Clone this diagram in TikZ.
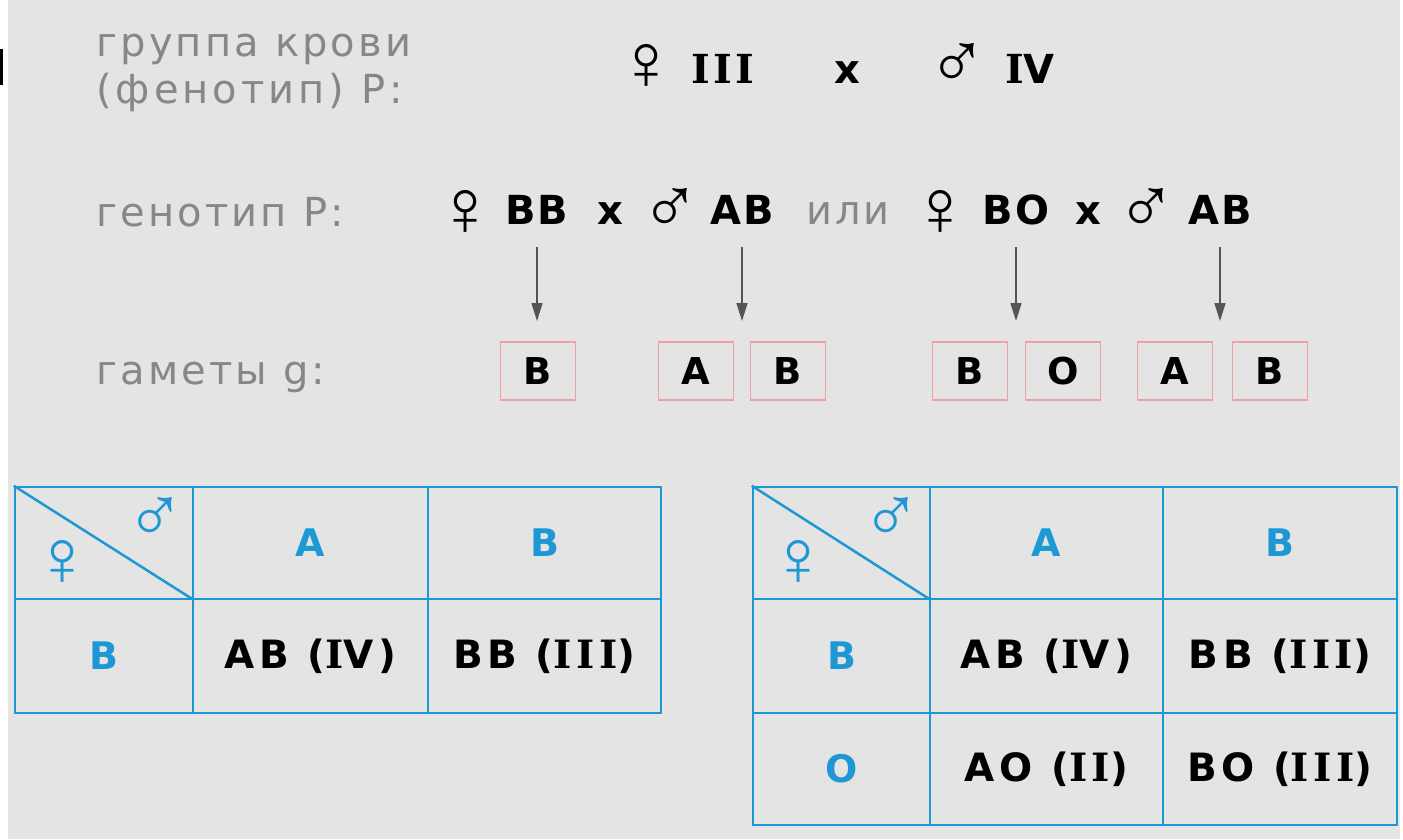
\documentclass[tikz,border=0pt]{standalone}
\usepackage{fontspec}
\setmainfont{DejaVu Sans}
\newfontfamily\grayf{DejaVu Sans}[LetterSpace=8]
\newfontfamily\grayg{DejaVu Sans}[LetterSpace=10]
\newfontfamily\boldf{DejaVu Sans}[LetterSpace=4]
\newfontfamily\cellf{DejaVu Sans}[LetterSpace=12]
\newfontfamily\cellIf{DejaVu Serif}[LetterSpace=12]
\newfontfamily\topIf{DejaVu Serif}[LetterSpace=8]
\newfontfamily\symf{Liberation Sans}
\newcommand\cI{{\cellIf\bfseries I}}
\newcommand\tI{{\topIf\bfseries I}}
\usetikzlibrary{arrows.meta}
\definecolor{bg}{RGB}{228,228,228}
\definecolor{lblgray}{RGB}{135,135,135}
\definecolor{arrgray}{RGB}{85,85,85}
\definecolor{boxred}{RGB}{240,160,160}
\definecolor{tblue}{RGB}{30,152,212}
\begin{document}
\begin{tikzpicture}[x=1pt,y=-1pt,
  graylbl/.style={text=lblgray, font=\grayf\fontsize{40}{48}\selectfont, inner sep=0pt, anchor=base west},
  gen/.style={font=\boldf\bfseries\fontsize{40}{48}\selectfont, inner sep=0pt, anchor=base},
  sym/.style={font=\symf\fontsize{80}{84}\selectfont, inner sep=0pt, anchor=center},
  gamete/.style={draw=boxred, line width=1.2pt, minimum width=75pt, minimum height=58pt, inner sep=0pt, font=\boldf\bfseries\fontsize{37}{40}\selectfont},
  arr/.style={draw=arrgray, line width=1.5pt, -{Triangle[length=18pt,width=11pt]}},
  cell/.style={draw=tblue, line width=2.5pt, inner sep=0pt, font=\cellf\bfseries\fontsize{39}{42}\selectfont},
  hdr/.style={cell, text=tblue, font=\cellf\bfseries\fontsize{38}{40}\selectfont},
  tsym/.style={text=tblue, font=\symf\fontsize{80}{84}\selectfont, inner sep=0pt, anchor=center},
]
\useasboundingbox (0,0) rectangle (1403,839);
\fill[white] (0,0) rectangle (1403,839);
\fill[bg] (8,0) rectangle (1400,839);
\fill[black] (0,49) rectangle (3,85);

% labels
\node[graylbl] (l1) at (96,56) {группа крови};
\node[graylbl, font=\grayg\fontsize{40}{48}\selectfont] (l2) at (96,103) {(фенотип) P:};
\node[graylbl] (l3) at (96,226) {генотип P:};
\node[graylbl] (l4) at (96,384) {гаметы g:};

% top row
\node[sym] (tf) at (646,67) {♀};
\node[gen] (tIII) at (723,83) {\tI\tI\tI};
\node[gen] (tx) at (847,83) {x};
\node[sym] (tm) at (957,66) {♂};
\node[gen] (tIV) at (1030,83) {\tI V};

% genotype row
\node[sym] (gf1) at (465,213) {♀};
\node[gen] (BB) at (537,224) {BB};
\node[gen] (x1) at (610,224) {x};
\node[sym] (gm1) at (670,211) {♂};
\node[gen] (AB1) at (742,224) {AB};
\node[graylbl, anchor=base] (ili) at (848,224) {или};
\node[sym] (gf2) at (940,213) {♀};
\node[gen] (BO) at (1016,224) {BO};
\node[gen] (x2) at (1088,224) {x};
\node[sym] (gm2) at (1146,211) {♂};
\node[gen] (AB2) at (1220,224) {AB};

% gametes
\node[gamete] (g1) at (538,371) {B};
\node[gamete] (g2) at (696,371) {A};
\node[gamete] (g3) at (788,371) {B};
\node[gamete] (g4) at (970,371) {B};
\node[gamete] (g5) at (1063,371) {O};
\node[gamete] (g6) at (1175,371) {A};
\node[gamete] (g7) at (1270,371) {B};

% arrows
\coordinate (atop) at (0,247);
\coordinate (atip) at (0,321);
\draw[arr] (BB |- atop) -- (BB |- atip);
\draw[arr] (AB1 |- atop) -- (AB1 |- atip);
\draw[arr] (BO |- atop) -- (BO |- atip);
\draw[arr] (AB2 |- atop) -- (AB2 |- atip);

% left table
\node[cell, minimum width=178pt, minimum height=112pt] (L00) at (104,543) {};
\node[hdr, minimum width=235pt, minimum height=112pt] (L01) at (310.5,543) {A};
\node[hdr, minimum width=233pt, minimum height=112pt] (L02) at (544.5,543) {B};
\node[hdr, minimum width=178pt, minimum height=114pt] (L10) at (104,656) {B};
\node[cell, minimum width=235pt, minimum height=114pt] (L11) at (310.5,656) {AB (\cI V)};
\node[cell, minimum width=233pt, minimum height=114pt] (L12) at (544.5,656) {BB (\cI\cI\cI)};
\draw[draw=tblue, line width=2.5pt] (L00.north west) -- (L00.south east);
\node[tsym] (Lf) at (62,563) {♀};
\node[tsym] (Lm) at (155,520) {♂};

% right table
\node[cell, minimum width=177pt, minimum height=112pt] (R00) at (841.5,543) {};
\node[hdr, minimum width=233pt, minimum height=112pt] (R01) at (1046.5,543) {A};
\node[hdr, minimum width=234pt, minimum height=112pt] (R02) at (1280,543) {B};
\node[hdr, minimum width=177pt, minimum height=114pt] (R10) at (841.5,656) {B};
\node[cell, minimum width=233pt, minimum height=114pt] (R11) at (1046.5,656) {AB (\cI V)};
\node[cell, minimum width=234pt, minimum height=114pt] (R12) at (1280,656) {BB (\cI\cI\cI)};
\node[hdr, minimum width=177pt, minimum height=112pt] (R20) at (841.5,769) {O};
\node[cell, minimum width=233pt, minimum height=112pt] (R21) at (1046.5,769) {AO (\cI\cI)};
\node[cell, minimum width=234pt, minimum height=112pt] (R22) at (1280,769) {BO (\cI\cI\cI)};
\draw[draw=tblue, line width=2.5pt] (R00.north west) -- (R00.south east);
\node[tsym] (Rf) at (798,563) {♀};
\node[tsym] (Rm) at (891,520) {♂};
\end{tikzpicture}
\end{document}
